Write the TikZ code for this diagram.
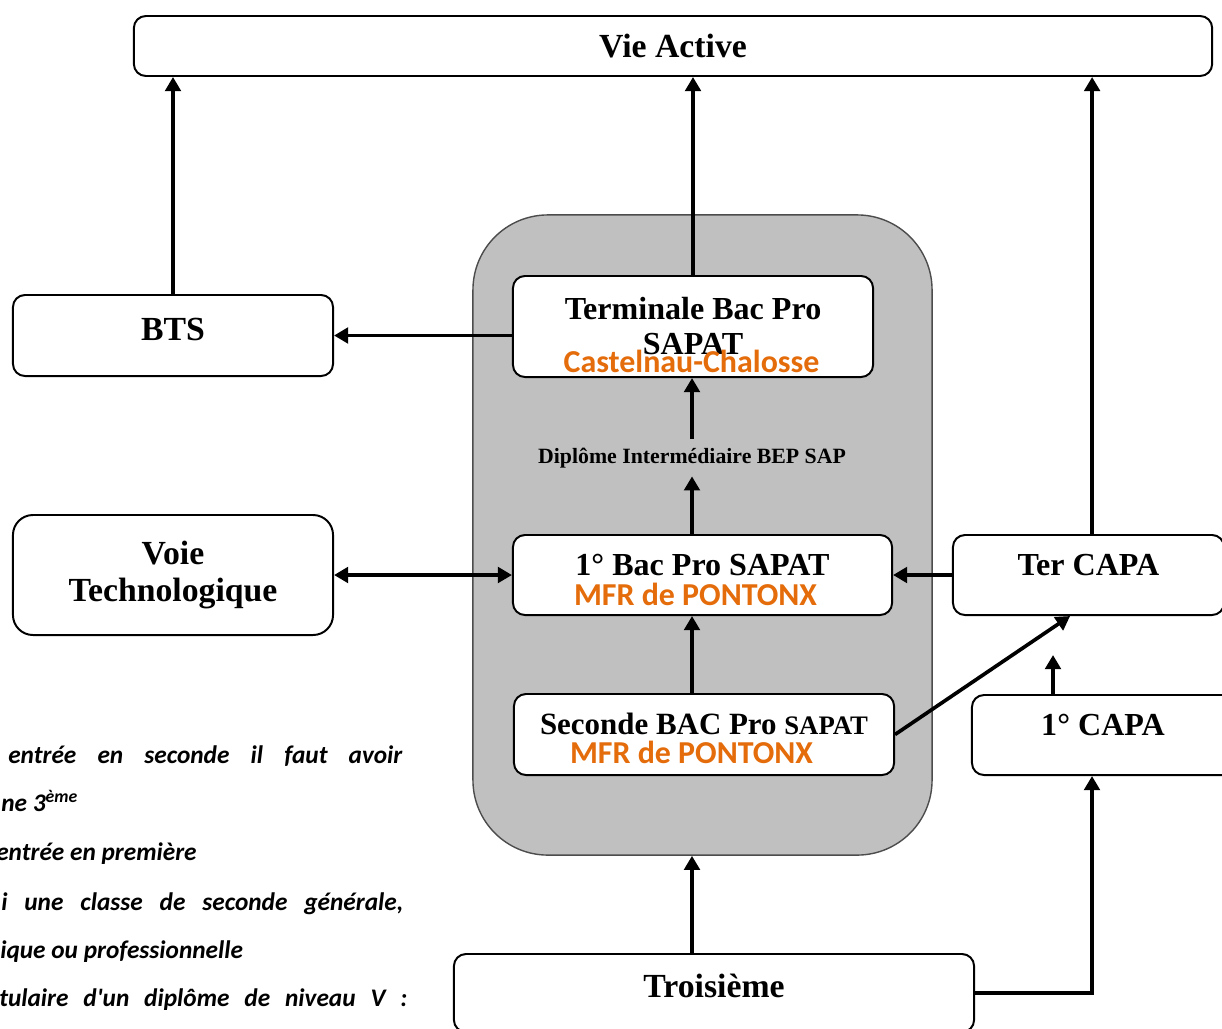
\documentclass[tikz,border=0pt]{standalone}
\usepackage{fontspec}
\setmainfont{Liberation Serif}
\newfontfamily\calibri{Carlito}
\usepackage{tikz}
\usetikzlibrary{arrows.meta}
\definecolor{siteorange}{HTML}{E46C0A}
\definecolor{zonegray}{HTML}{C0C0C0}

\begin{document}
\begin{tikzpicture}[x=0.025cm, y=-0.025cm,
    >={Triangle[length=10pt,width=11pt]},
    box/.style={rectangle, draw, line width=1.4pt, fill=white, rounded corners=0.3cm, align=center, font=\bfseries\fontsize{22.8pt}{24.9pt}\selectfont},
    bigbox/.style={box, font=\bfseries\fontsize{24pt}{26.3pt}\selectfont},
    cellbox/.style={box, text height=0.55cm, text depth=#1},
    cellbox/.default=0.55cm,
    site/.style={anchor=base, text=siteorange, font=\calibri\bfseries\fontsize{22.7pt}{24pt}\selectfont},
    note/.style={anchor=base west, inner sep=0pt, font=\calibri\bfseries\itshape\fontsize{18pt}{20pt}\selectfont},
    link/.style={->, line width=2.6pt}]
    \useasboundingbox (0,0) rectangle (1222,1028);
    \clip (0,0) rectangle (1222,1028);

    \node (zone) [draw=black!70, line width=1pt, fill=zonegray, rounded corners=1.875cm, minimum width=11.475cm, minimum height=16cm] at (702.5,535) {};

    \node (vie) [bigbox, minimum width=26.95cm, minimum height=1.5cm] at (673,46) {Vie Active};
    \node (bts) [bigbox, text height=0.55cm, text depth=0.325cm, minimum width=8cm, minimum height=2.025cm] at (173,335.5) {BTS};
    \node (voie) [bigbox, rounded corners=0.5cm, minimum width=8cm, minimum height=3cm] at (173,575) {Voie\\Technologique};
    \node (term) [box, minimum width=9cm, minimum height=2.525cm] at (693,326.5) {Terminale Bac Pro\\SAPAT};
    \node (dip) [anchor=base, inner ysep=6pt, font=\bfseries\fontsize{15.5pt}{17pt}\selectfont] at (692,463) {Diplôme Intermédiaire BEP SAP};
    \node (bac1) [cellbox, minimum width=9.475cm, minimum height=2cm] at (702.5,575) {1° Bac Pro SAPAT};
    \node (sec) [cellbox, minimum width=9.5cm, minimum height=2.025cm, font=\bfseries\fontsize{22pt}{24pt}\selectfont] at (704,734.5) {Seconde BAC Pro {\fontsize{19pt}{20pt}\selectfont SAPAT}};
    \node (tercapa) [cellbox, minimum width=6.775cm, minimum height=2cm] at (1088.5,575) {Ter CAPA};
    \node (capa1) [cellbox, minimum width=6.55cm, minimum height=2cm] at (1103,735) {1° CAPA};
    \node (trois) [bigbox, text height=0.55cm, text depth=0.35cm, minimum width=13cm, minimum height=1.95cm] at (714,993) {Troisième};

    \node (termsite) [site] at (691.5,372) {Castelnau-Chalosse};
    \node (bac1site) [site] at (695.5,605) {MFR de PONTONX};
    \node (secsite) [site] at (691.5,763) {MFR de PONTONX};

    \node (note1) [note] at (8,763) {\makebox[9.85cm][s]{entrée en seconde il faut avoir}};
    \node (note2) [note] at (1,811) {ne 3\textsuperscript{ème}};
    \node (note3) [note] at (-4,860) {entrée en première};
    \node (note4) [note] at (1,910) {\makebox[10.05cm][s]{i une classe de seconde générale,}};
    \node (note5) [note] at (0,958) {ique ou professionnelle};
    \node (note6) [note] at (-1,1006) {\makebox[10.2cm][s]{tulaire d'un diplôme de niveau V :}};

    \draw[link] (bts) -- (bts |- vie.south);
    \draw[link] (term) -- (term |- vie.south);
    \draw[link] ([xshift=0.09cm]tercapa.north) -- ([xshift=0.09cm]tercapa.north |- vie.south);
    \draw[link] (term.west |- bts) -- (bts);
    \draw[link] (dip |- bac1.north) -- (dip.south);
    \draw[link] (dip.north) -- (dip.north |- term.south);
    \draw[link, <->] (voie) -- (bac1);
    \draw[link] (tercapa) -- (bac1);
    \draw[link] (dip |- sec.north) -- (dip |- bac1.south);
    \draw[link] (sec.east) -- ([xshift=-0.46cm]tercapa.south);
    \coordinate (capatip) at (1053,655);
    \draw[link] (capatip |- capa1.north) -- (capatip);
    \draw[link] (dip |- trois.north) -- (dip |- zone.south);
    \draw[link] (trois.east) -| ([xshift=-0.275cm]capa1.south);
\end{tikzpicture}
\end{document}
